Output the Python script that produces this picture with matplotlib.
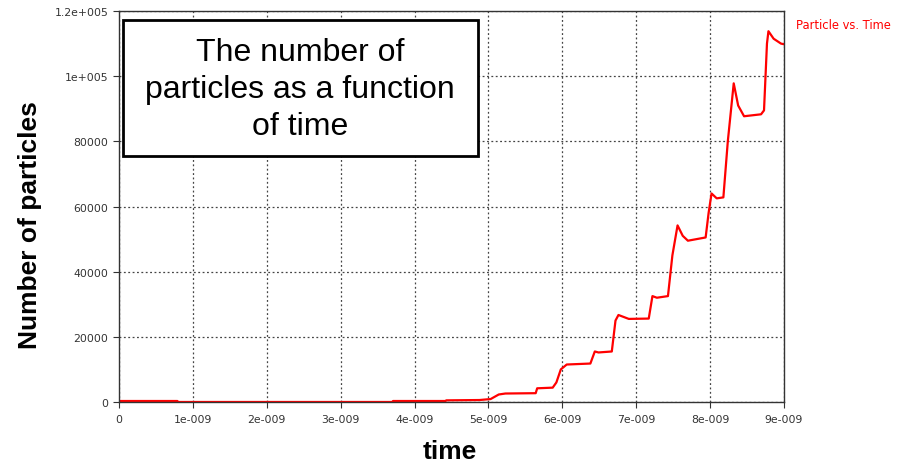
import matplotlib
matplotlib.use('Agg')
import matplotlib.pyplot as plt
from matplotlib.patches import Rectangle
import numpy as np

# particle count vs simulation time (time in units of 1e-9 s)
time_ns = [0.0, 0.79, 0.80, 3.70, 3.71, 4.42, 4.43, 4.88, 5.03, 5.14, 5.23, 5.64, 5.66,
           5.87, 5.92, 5.98, 6.06, 6.38, 6.44, 6.49, 6.67, 6.72, 6.76, 6.90, 7.17,
           7.22, 7.28, 7.43, 7.49, 7.56, 7.63, 7.70, 7.94, 7.98, 8.02, 8.09, 8.18,
           8.24, 8.32, 8.38, 8.46, 8.69, 8.73, 8.77, 8.79, 8.86, 8.96, 9.0]
particles = [300, 300, 0, 0, 300, 300, 500, 600, 900, 2300, 2600, 2700, 4200,
             4400, 6000, 10000, 11500, 11800, 15500, 15200, 15500, 25000, 26700, 25500, 25600,
             32500, 32000, 32500, 45000, 54200, 51000, 49500, 50500, 58000, 64000, 62500, 62800,
             80000, 97800, 91000, 87700, 88300, 89500, 110000, 113800, 111500, 110000, 109800]

x_ticks = [0, 1e-9, 2e-9, 3e-9, 4e-9, 5e-9, 6e-9, 7e-9, 8e-9, 9e-9]
x_labels = ['0', '1e-009', '2e-009', '3e-009', '4e-009', '5e-009', '6e-009', '7e-009', '8e-009', '9e-009']
y_ticks = [0, 20000, 40000, 60000, 80000, 100000, 120000]
y_labels = ['0', '20000', '40000', '60000', '80000', '1e+005', '1.2e+005']

t = np.array(time_ns) * 1e-9

fig = plt.figure(figsize=(9.06, 4.64), dpi=100)
ax = fig.add_axes([0.1313, 0.1315, 0.734, 0.8426])

ax.plot(t, particles, color='#ff0000', linewidth=1.6, solid_joinstyle='round')

ax.set_xlim(0, 9e-9)
ax.set_ylim(0, 120000)
ax.set_xticks(x_ticks)
ax.set_xticklabels(x_labels)
ax.set_yticks(y_ticks)
ax.set_yticklabels(y_labels)
ax.tick_params(labelsize=7.8, colors='#333333', length=4, width=0.8)
ax.tick_params(axis='x', pad=5)

ax.grid(True, color='#444444', linestyle=(0, (1.5, 2)), linewidth=0.9)
for side in ax.spines.values():
    side.set_color('#333333')
    side.set_linewidth(1.0)

fig.text(0.033, 0.515, 'Number of particles', rotation=90, ha='center', va='center',
         fontsize=19, fontweight='bold', family='Liberation Sans')
fig.text(0.496, 1 - 452 / 464, 'time', ha='center', va='center',
         fontsize=19, fontweight='bold', family='Liberation Sans')

fig.text(0.879, 0.946, 'Particle vs. Time', color='#ff0000', fontsize=8.3, ha='left', va='center')

# title box in the upper left of the plot
fig.patches.append(Rectangle((123 / 906, 1 - 157 / 464), 355 / 906, 136 / 464,
                             transform=fig.transFigure, facecolor='white',
                             edgecolor='black', linewidth=2, zorder=5))
fig.text(300 / 906, 1 - 90 / 464, 'The number of\nparticles as a function\nof time',
         ha='center', va='center', fontsize=23, linespacing=1.3,
         family='Liberation Sans', zorder=6)

plt.savefig('out.png', dpi=100)
